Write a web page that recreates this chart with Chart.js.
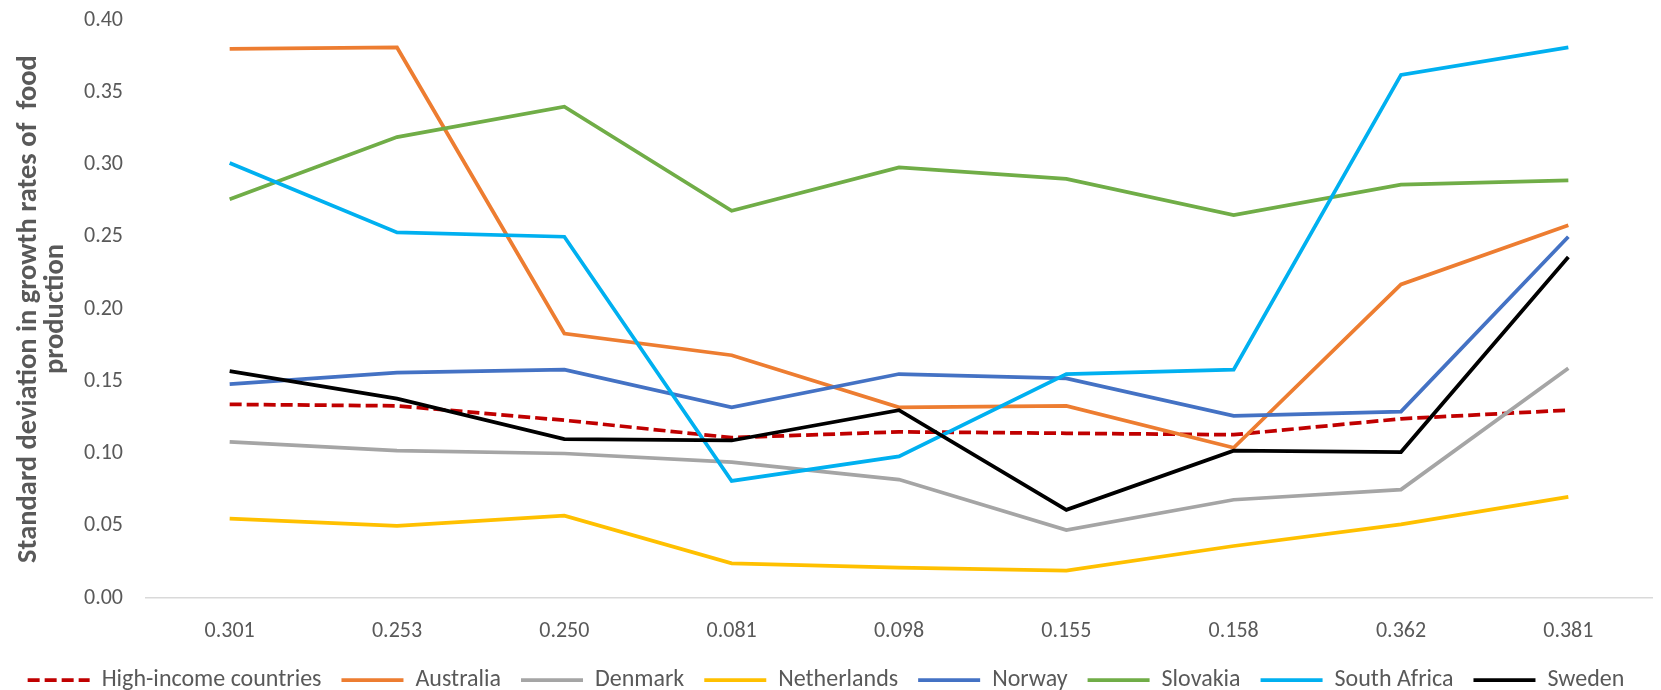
<!DOCTYPE html>
<html>
<head>
<meta charset="utf-8">
<script src="https://cdn.jsdelivr.net/npm/chart.js@4/dist/chart.umd.min.js"></script>
<style>
  html, body { margin: 0; padding: 0; background: #ffffff; }
  #wrap { width: 1661px; height: 690px; position: relative; }
</style>
</head>
<body>
<div id="wrap"><canvas id="c" width="1661" height="690"></canvas></div>
<script>
const categories = ["0.301", "0.253", "0.250", "0.081", "0.098", "0.155", "0.158", "0.362", "0.381"];
const highIncome  = [0.134, 0.133, 0.123, 0.111, 0.115, 0.114, 0.113, 0.124, 0.130];
const australia   = [0.380, 0.381, 0.183, 0.168, 0.132, 0.133, 0.104, 0.217, 0.258];
const denmark     = [0.108, 0.102, 0.100, 0.094, 0.082, 0.047, 0.068, 0.075, 0.159];
const netherlands = [0.055, 0.050, 0.057, 0.024, 0.021, 0.019, 0.036, 0.051, 0.070];
const norway      = [0.148, 0.156, 0.158, 0.132, 0.155, 0.152, 0.126, 0.129, 0.250];
const slovakia    = [0.276, 0.319, 0.340, 0.268, 0.298, 0.290, 0.265, 0.286, 0.289];
const southAfrica = [0.301, 0.253, 0.250, 0.081, 0.098, 0.155, 0.158, 0.362, 0.381];
const sweden      = [0.157, 0.138, 0.110, 0.109, 0.130, 0.061, 0.102, 0.101, 0.236];
const yTitle = ["Standard deviation in growth rates of  food", "production"];

const FONT = "Carlito, Lato, sans-serif";
const TXT = "#595959";
const LW = 3.75;

const series = [
  ["High-income countries", highIncome, "#C00000", [12, 5]],
  ["Australia", australia, "#ED7D31", []],
  ["Denmark", denmark, "#A5A5A5", []],
  ["Netherlands", netherlands, "#FFC000", []],
  ["Norway", norway, "#4472C4", []],
  ["Slovakia", slovakia, "#70AD47", []],
  ["South Africa", southAfrica, "#00B0F0", []],
  ["Sweden", sweden, "#000000", []]
];

const datasets = series.map((s, i) => ({
  label: s[0],
  data: s[1],
  borderColor: s[2],
  backgroundColor: s[2],
  borderDash: s[3],
  borderWidth: LW,
  pointRadius: 0,
  pointHoverRadius: 0,
  tension: 0,
  fill: false,
  order: series.length - i
}));

new Chart(document.getElementById("c"), {
  type: "line",
  data: { labels: categories, datasets: datasets },
  options: {
    responsive: false,
    animation: false,
    devicePixelRatio: 1,
    layout: { padding: { left: 0, right: 9, top: 20, bottom: 0 } },
    plugins: {
      tooltip: { enabled: false },
      title: { display: false },
      legend: {
        position: "bottom",
        maxHeight: 42,
        labels: {
          font: { family: FONT, size: 24 },
          color: TXT,
          usePointStyle: true,
          pointStyle: "line",
          pointStyleWidth: 62,
          boxHeight: 20,
          padding: 20,
          sort: (a, b) => a.datasetIndex - b.datasetIndex,
          generateLabels: (chart) => {
            const items = Chart.defaults.plugins.legend.labels.generateLabels(chart);
            items.forEach((it) => {
              const ds = chart.data.datasets[it.datasetIndex];
              it.lineDash = ds.borderDash;
              it.lineWidth = LW;
              it.strokeStyle = ds.borderColor;
              it.fillStyle = ds.borderColor;
              it.lineCap = "butt";
              it.pointStyle = "line";
            });
            return items;
          }
        }
      }
    },
    scales: {
      x: {
        type: "category",
        offset: true,
        grid: { display: false, drawTicks: true, tickLength: 17 },
        border: { display: true, color: "#D9D9D9", width: 1.5 },
        ticks: { font: { family: FONT, size: 22, lineHeight: 1.0909 }, color: TXT, padding: 4.5, maxRotation: 0 }
      },
      y: {
        min: 0,
        max: 0.40,
        grid: { display: false, drawTicks: true, tickLength: 23 },
        border: { display: false },
        ticks: {
          stepSize: 0.05,
          font: { family: FONT, size: 22 },
          color: TXT,
          padding: 0,
          callback: (v) => Number(v).toFixed(2)
        },
        title: {
          display: true,
          text: yTitle,
          color: TXT,
          font: { family: FONT, size: 28.5, weight: "bold", lineHeight: 0.93 },
          padding: { top: 15.7, bottom: 0 }
        },
        afterFit: (scale) => { scale.width = 146; }
      }
    }
  }
});
</script>
</body>
</html>
